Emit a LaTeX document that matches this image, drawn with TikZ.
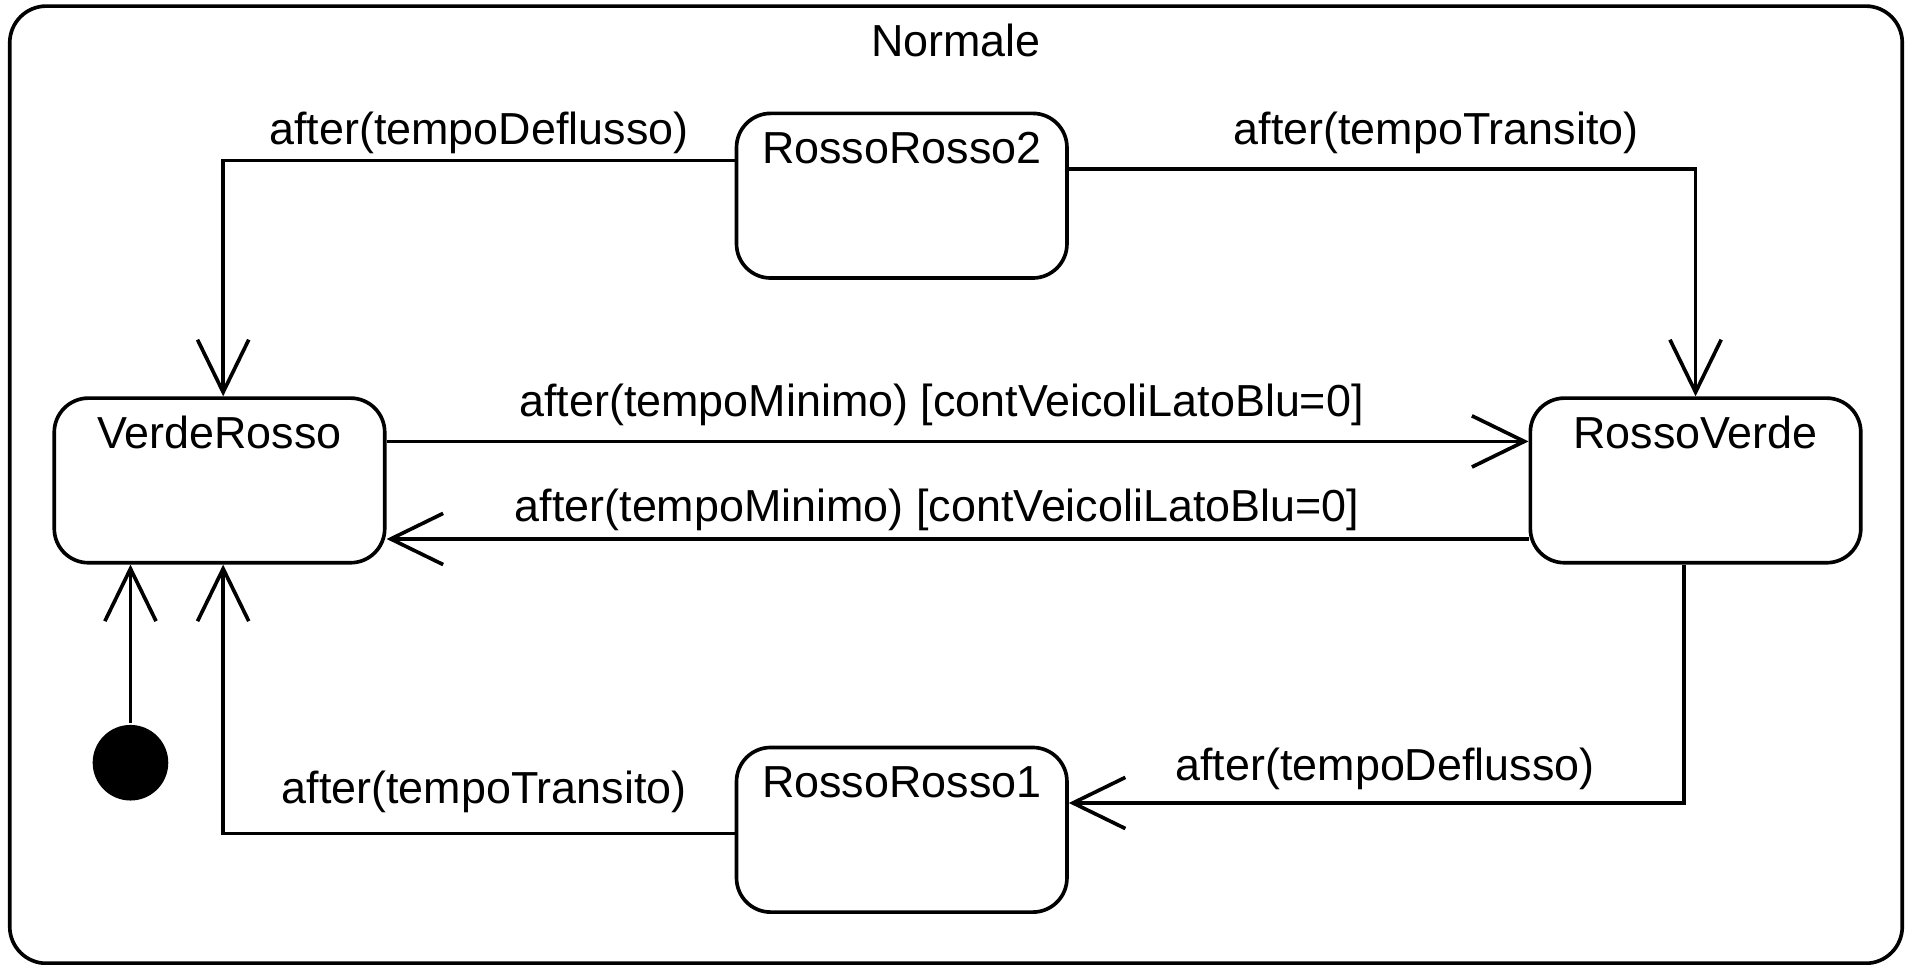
\documentclass[tikz,border=0pt]{standalone}
\usepackage{fontspec}
\setmainfont{Liberation Sans}
\usetikzlibrary{arrows.meta}
\begin{document}
\begin{tikzpicture}[x=1pt,y=-1pt,line width=3pt,
  font=\fontsize{36.8}{44}\selectfont,
  state/.style={draw,rounded corners=28pt,inner sep=0pt,minimum width=271pt,minimum height=135pt,text height=41pt,text depth=94pt},
  trans/.style={-{Straight Barb[length=43pt,width=42pt]}},
  lbl/.style={inner sep=0pt}]
\useasboundingbox (0,0) rectangle (1568,791);
\node[draw,rounded corners=30pt,inner sep=0pt,minimum width=1552pt,minimum height=785pt,text height=41pt,text depth=744pt] (normale) at (784,397.5) {Normale};

\path (739.5,160.5) node[state](rr2){RossoRosso2};
\path (180,394) node[state](vr){VerdeRosso};
\path (1390.5,394) node[state](rv){RossoVerde};
\path (739.5,680.5) node[state](rr1){RossoRosso1};
\path (107,625.5) node[circle,fill,inner sep=0pt,minimum size=62pt](init){};

\draw[trans] (init) -- (init |- vr.south);
\draw[trans] ([yshift=-40pt]rr2.north west) -| ([xshift=3pt]vr.north)
  node[lbl,pos=0.25,above=4.2pt](t1){after(tempoDeflusso)};
\draw[trans] ([yshift=-47pt]rr2.north east) -| (rv.north)
  node[lbl,pos=0.293,above=11.2pt](t2){after(tempoTransito)};
\draw[trans] ([yshift=-37pt]vr.north east) -- ([yshift=-37pt]rv.north west)
  node[lbl,pos=0.486,above=11.2pt](t3){after(tempoMinimo) [contVeicoliLatoBlu=0]};
\draw[trans] ([yshift=21pt]rv.south west) -- ([yshift=21pt]vr.south east)
  node[lbl,pos=0.518,above=5.2pt](t4){after(tempoMinimo) [contVeicoliLatoBlu=0]};
\draw[trans] ([xshift=-9.5pt]rv.south) |- ([yshift=-47pt]rr1.north east)
  node[lbl,pos=0.743,above=9.2pt](t5){after(tempoDeflusso)};
\draw[trans] ([yshift=-72pt]rr1.north west) -| ([xshift=3pt]vr.south)
  node[lbl,pos=0.245,above=15.2pt](t6){after(tempoTransito)};

\end{tikzpicture}
\end{document}
